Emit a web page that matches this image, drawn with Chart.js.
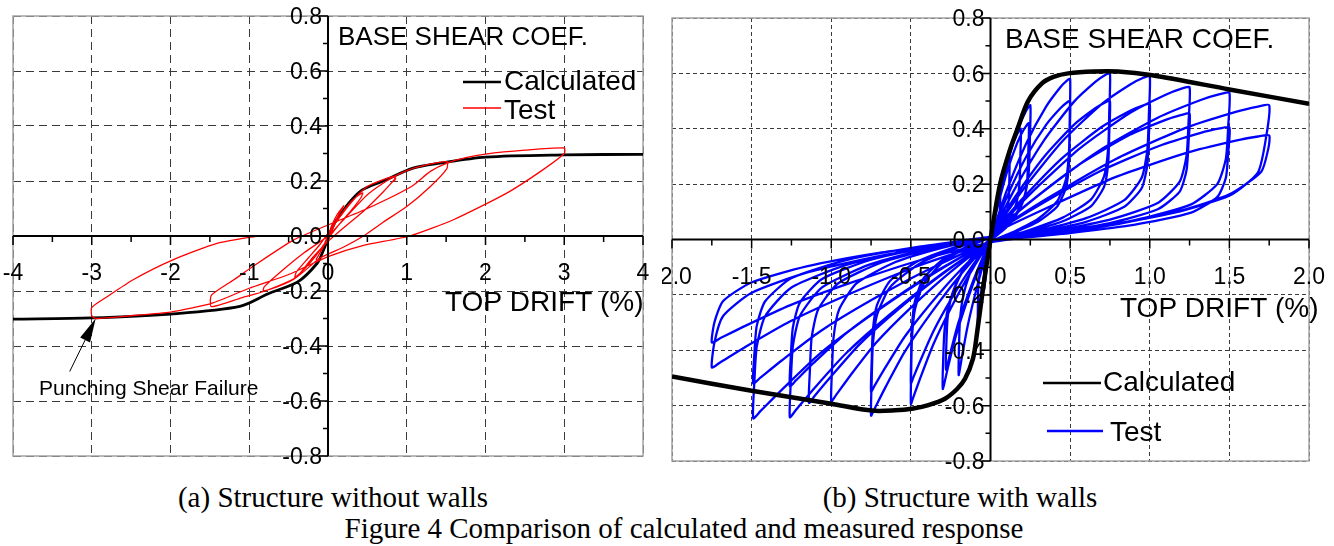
<!DOCTYPE html>
<html>
<head>
<meta charset="utf-8">
<script src="https://cdn.jsdelivr.net/npm/chart.js@4.4.1/dist/chart.umd.min.js"></script>
<style>
body { margin: 0; background: #fff; width: 1334px; height: 546px; overflow: hidden; position: relative; }
canvas { position: absolute; top: 0; }
#chartA { left: 0; }
#chartB { left: 662px; }
.cap { position: absolute; font-family: 'Liberation Serif', 'Times New Roman', serif; font-size: 29px; line-height: 29px; white-space: nowrap; color: #000; transform: translateX(-50%); }
</style>
</head>
<body>
<canvas id="chartA" width="660" height="470"></canvas>
<canvas id="chartB" width="672" height="470"></canvas>
<div class="cap" style="left:333px;top:483px">(a) Structure without walls</div>
<div class="cap" style="left:960px;top:483px">(b) Structure with walls</div>
<div class="cap" style="left:684px;top:514px">Figure 4 Comparison of calculated and measured response</div>
<script>
// tick labels
const xTicksA = ['-4', '-3', '-2', '-1', '0', '1', '2', '3', '4'];
const xTicksB = ['-2.0', '-1.5', '-1.0', '-0.5', '0.0', '0.5', '1.0', '1.5', '2.0'];
const yTicks = ['0.8', '0.6', '0.4', '0.2', '0.0', '-0.2', '-0.4', '-0.6', '-0.8'];

// (a) structure without walls: [drift %, base shear coef.]
const calcA = [[-4, -0.302], [-3, -0.298], [-2, -0.284], [-1.12, -0.256], [-0.76, -0.21], [-0.38, -0.166],
  [-0.14, -0.1], [-0.07, -0.06], [0, -0.01], [0.07, 0.04], [0.15, 0.075], [0.28, 0.125], [0.43, 0.167],
  [0.7, 0.2], [1.08, 0.247], [1.42, 0.265], [2.0, 0.287], [3, 0.295], [4, 0.297]];

const testA = [[0, 0], [0.05, 0.04], [0.12, 0.08], [0.2, 0.11], [0.15, 0.085], [0.05, 0.03], [0, 0.005],
  [-0.06, -0.04], [-0.15, -0.085], [-0.1, -0.06], [0, -0.01],
  [0.1, 0.05], [0.25, 0.11], [0.35, 0.14], [0.44, 0.157], [0.42, 0.14], [0.3, 0.095], [0.15, 0.045], [0, -0.01],
  [-0.15, -0.07], [-0.3, -0.12], [-0.42, -0.15], [-0.4, -0.13], [-0.25, -0.08], [-0.1, -0.03], [0, 0.01],
  [0.15, 0.07], [0.35, 0.14], [0.5, 0.18], [0.7, 0.205], [0.85, 0.218], [0.84, 0.2], [0.86, 0.21], [0.7, 0.16],
  [0.45, 0.09], [0.2, 0.03], [0, -0.02], [-0.2, -0.08], [-0.4, -0.15], [-0.6, -0.18], [-0.82, -0.2],
  [-0.81, -0.185], [-0.6, -0.13], [-0.3, -0.06], [0, 0.0],
  [0.2, 0.06], [0.5, 0.15], [0.8, 0.21], [1.0, 0.238], [1.2, 0.255], [1.51, 0.27], [1.51, 0.245], [1.3, 0.18],
  [1.0, 0.107], [0.7, 0.05], [0.45, 0.0], [0.2, -0.04], [-0.1, -0.08], [-0.4, -0.15], [-0.8, -0.2],
  [-1.1, -0.225], [-1.48, -0.257], [-1.48, -0.215], [-1.2, -0.16], [-0.95, -0.11], [-0.44, -0.015], [0, 0.04],
  [0.5, 0.1], [1.06, 0.18], [1.3, 0.235], [1.51, 0.265],
  [1.75, 0.285], [2.0, 0.298], [2.5, 0.312], [3.0, 0.32], [3.0, 0.3], [2.7, 0.235], [2.27, 0.156], [1.6, 0.06],
  [1.04, 0.0], [0.44, -0.035], [0, -0.075], [-0.5, -0.14], [-1.0, -0.19], [-1.48, -0.245], [-2.0, -0.277],
  [-2.5, -0.29], [-2.95, -0.3], [-3.0, -0.29], [-3.0, -0.26], [-2.8, -0.22], [-2.48, -0.16], [-1.97, -0.087],
  [-1.41, -0.027], [-0.9, 0.0]];

// (b) structure with walls
const calcB = [[-2, -0.495], [-1.5, -0.546], [-1.0, -0.593], [-0.744, -0.618], [-0.6, -0.617], [-0.493, -0.611],
  [-0.39, -0.598], [-0.286, -0.575], [-0.21, -0.54], [-0.16, -0.503], [-0.11, -0.43], [-0.085, -0.34],
  [-0.05, -0.19], [0, 0], [0.06, 0.2], [0.12, 0.32], [0.173, 0.405], [0.236, 0.5], [0.323, 0.564],
  [0.4, 0.588], [0.487, 0.6], [0.65, 0.607], [0.8, 0.607], [1.015, 0.593], [1.5, 0.542], [2.0, 0.49]];

// test cycles, grouped by peak drift
const testB005 = [[0, 0], [0.03, 0.1], [0.06, 0.2], [0.058, 0.1], [0.03, 0.03], [0, 0], [-0.02, -0.08],
  [-0.04, -0.18], [-0.038, -0.1], [-0.015, -0.02], [0, 0],
  [0, 0.01], [0.024, 0.09], [0.054, 0.18], [0.084, 0.249], [0.106, 0.285], [0.115, 0.297], [0.12, 0.3], [0.119, 0.234],
  [0.115, 0.15], [0.103, 0.099], [0.079, 0.06], [0.048, 0.03], [0.018, 0.009], [0, -0.005],
  [-0.02, -0.06], [-0.04, -0.126], [-0.058, -0.192], [-0.07, -0.252], [-0.08, -0.3],
  [-0.079, -0.24], [-0.077, -0.18], [-0.069, -0.126], [-0.053, -0.078], [-0.032, -0.039], [-0.012, -0.012], [0, 0.005]];
const testB020 = [[0, 0.01], [0.038, 0.12], [0.086, 0.24], [0.133, 0.332], [0.167, 0.38], [0.19, 0.4],
  [0.188, 0.312], [0.182, 0.2], [0.163, 0.132], [0.125, 0.08], [0.076, 0.04], [0.029, 0.012], [0, -0.005],
  [-0.05, -0.098], [-0.1, -0.206], [-0.144, -0.314], [-0.176, -0.412], [-0.2, -0.49],
  [-0.198, -0.392], [-0.192, -0.294], [-0.172, -0.206], [-0.132, -0.127], [-0.08, -0.064], [-0.03, -0.02], [0, 0.005]];
const testB025 = [[0, 0.01], [0.05, 0.146], [0.113, 0.291], [0.175, 0.403], [0.22, 0.461], [0.25, 0.485],
  [0.248, 0.378], [0.24, 0.243], [0.215, 0.16], [0.165, 0.097], [0.1, 0.049], [0.038, 0.015], [0, -0.005],
  [-0.075, -0.108], [-0.15, -0.227], [-0.216, -0.346], [-0.264, -0.454], [-0.3, -0.54],
  [-0.297, -0.432], [-0.288, -0.324], [-0.258, -0.227], [-0.198, -0.14], [-0.12, -0.07], [-0.045, -0.022], [0, 0.005],
  [0, 0.01], [0.048, 0.126], [0.108, 0.252], [0.168, 0.349], [0.211, 0.399], [0.24, 0.42],
  [0.238, 0.328], [0.23, 0.21], [0.206, 0.139], [0.158, 0.084], [0.096, 0.042], [0.036, 0.013], [0, -0.005],
  [-0.07, -0.094], [-0.14, -0.197], [-0.202, -0.301], [-0.246, -0.395], [-0.28, -0.47],
  [-0.277, -0.376], [-0.269, -0.282], [-0.241, -0.197], [-0.185, -0.122], [-0.112, -0.061], [-0.042, -0.019], [0, 0.005]];
const testB050 = [[0.01, 0.02], [0.1, 0.174], [0.225, 0.348], [0.35, 0.481], [0.44, 0.551], [0.48, 0.574], [0.5, 0.58],
  [0.498, 0.452], [0.493, 0.319], [0.475, 0.22], [0.42, 0.139], [0.3, 0.075], [0.15, 0.029], [0, -0.01],
  [-0.125, -0.119], [-0.25, -0.249], [-0.36, -0.38], [-0.44, -0.499], [-0.485, -0.57], [-0.5, -0.594],
  [-0.498, -0.475], [-0.493, -0.356], [-0.475, -0.255], [-0.42, -0.16], [-0.3, -0.083], [-0.15, -0.03], [0, 0.01],
  [0.01, 0.02], [0.1, 0.15], [0.225, 0.3], [0.35, 0.415], [0.44, 0.475], [0.48, 0.495], [0.5, 0.5],
  [0.498, 0.39], [0.493, 0.275], [0.475, 0.19], [0.42, 0.12], [0.3, 0.065], [0.15, 0.025], [0, -0.01],
  [-0.125, -0.104], [-0.25, -0.218], [-0.36, -0.333], [-0.44, -0.437], [-0.485, -0.499], [-0.5, -0.52],
  [-0.498, -0.416], [-0.493, -0.312], [-0.475, -0.224], [-0.42, -0.14], [-0.3, -0.073], [-0.15, -0.026], [0, 0.01]];
const testB075 = [[0.01, 0.02], [0.15, 0.18], [0.338, 0.36], [0.525, 0.498], [0.66, 0.57], [0.72, 0.594], [0.75, 0.6],
  [0.746, 0.468], [0.739, 0.33], [0.713, 0.228], [0.63, 0.144], [0.45, 0.078], [0.225, 0.03], [0, -0.01],
  [-0.188, -0.127], [-0.375, -0.267], [-0.54, -0.407], [-0.66, -0.534], [-0.728, -0.611], [-0.75, -0.636],
  [-0.746, -0.509], [-0.739, -0.382], [-0.713, -0.273], [-0.63, -0.172], [-0.45, -0.089], [-0.225, -0.032], [0, 0.01],
  [0.01, 0.02], [0.15, 0.15], [0.338, 0.3], [0.525, 0.415], [0.66, 0.475], [0.72, 0.495], [0.75, 0.5],
  [0.746, 0.39], [0.739, 0.275], [0.713, 0.19], [0.63, 0.12], [0.45, 0.065], [0.225, 0.025], [0, -0.01],
  [-0.188, -0.11], [-0.375, -0.231], [-0.54, -0.352], [-0.66, -0.462], [-0.728, -0.528], [-0.75, -0.55],
  [-0.746, -0.44], [-0.739, -0.33], [-0.713, -0.237], [-0.63, -0.149], [-0.45, -0.077], [-0.225, -0.028], [0, 0.01]];
const testB100 = [[0.01, 0.02], [0.2, 0.177], [0.45, 0.354], [0.7, 0.49], [0.88, 0.561], [0.96, 0.584], [1.0, 0.59],
  [0.995, 0.46], [0.985, 0.325], [0.95, 0.224], [0.84, 0.142], [0.6, 0.077], [0.3, 0.03], [0, -0.01],
  [-0.25, -0.117], [-0.5, -0.246], [-0.72, -0.374], [-0.88, -0.491], [-0.97, -0.562], [-1.0, -0.585],
  [-0.995, -0.468], [-0.985, -0.351], [-0.95, -0.252], [-0.84, -0.158], [-0.6, -0.082], [-0.3, -0.029], [0, 0.01],
  [0.01, 0.02], [0.2, 0.147], [0.45, 0.294], [0.7, 0.407], [0.88, 0.466], [0.96, 0.485], [1.0, 0.49],
  [0.995, 0.382], [0.985, 0.27], [0.95, 0.186], [0.84, 0.118], [0.6, 0.064], [0.3, 0.025], [0, -0.01],
  [-0.285, -0.118], [-0.57, -0.248], [-0.821, -0.378], [-1.003, -0.496], [-1.106, -0.566], [-1.14, -0.59],
  [-1.134, -0.472], [-1.123, -0.354], [-1.083, -0.254], [-0.958, -0.159], [-0.684, -0.083], [-0.342, -0.03], [0, 0.01]];
const testB125 = [[0.01, 0.02], [0.25, 0.165], [0.563, 0.33], [0.875, 0.457], [1.1, 0.523], [1.2, 0.545], [1.25, 0.55],
  [1.244, 0.429], [1.231, 0.303], [1.188, 0.209], [1.05, 0.132], [0.75, 0.072], [0.375, 0.028], [0, -0.01],
  [-0.315, -0.128], [-0.63, -0.27], [-0.907, -0.411], [-1.109, -0.539], [-1.222, -0.616], [-1.26, -0.642],
  [-1.254, -0.514], [-1.241, -0.385], [-1.197, -0.276], [-1.058, -0.173], [-0.756, -0.09], [-0.378, -0.032], [0, 0.01],
  [0.01, 0.02], [0.25, 0.137], [0.563, 0.273], [0.875, 0.378], [1.1, 0.432], [1.2, 0.45], [1.25, 0.455],
  [1.244, 0.355], [1.231, 0.25], [1.188, 0.173], [1.05, 0.109], [0.75, 0.059], [0.375, 0.023], [0, -0.01],
  [-0.315, -0.106], [-0.63, -0.223], [-0.907, -0.339], [-1.109, -0.445], [-1.222, -0.509], [-1.26, -0.53],
  [-1.254, -0.424], [-1.241, -0.318], [-1.197, -0.228], [-1.058, -0.143], [-0.756, -0.074], [-0.378, -0.027], [0, 0.01]];
const testB150 = [[0.01, 0.02], [0.3, 0.159], [0.675, 0.318], [1.05, 0.44], [1.32, 0.504], [1.44, 0.525], [1.5, 0.53],
  [1.493, 0.413], [1.478, 0.292], [1.425, 0.201], [1.26, 0.127], [0.9, 0.069], [0.45, 0.027], [0, -0.01],
  [-0.373, -0.129], [-0.745, -0.271], [-1.073, -0.413], [-1.311, -0.543], [-1.445, -0.62], [-1.49, -0.646],
  [-1.483, -0.517], [-1.468, -0.388], [-1.416, -0.278], [-1.252, -0.174], [-0.894, -0.09], [-0.447, -0.032], [0, 0.01],
  [0.01, 0.02], [0.3, 0.122], [0.675, 0.243], [1.05, 0.336], [1.32, 0.385], [1.44, 0.401], [1.5, 0.405],
  [1.493, 0.316], [1.478, 0.223], [1.425, 0.154], [1.26, 0.097], [0.9, 0.053], [0.45, 0.02], [0, -0.01],
  [-0.373, -0.104], [-0.745, -0.218], [-1.073, -0.333], [-1.311, -0.437], [-1.445, -0.499], [-1.49, -0.52],
  [-1.483, -0.416], [-1.468, -0.312], [-1.416, -0.224], [-1.252, -0.14], [-0.894, -0.073], [-0.447, -0.026], [0, 0.01]];
const testB175 = [[0.01, 0.02], [0.35, 0.146], [0.788, 0.291], [1.225, 0.403], [1.54, 0.461], [1.68, 0.48], [1.75, 0.485],
  [1.733, 0.378], [1.68, 0.243], [1.505, 0.16], [1.155, 0.097], [0.7, 0.049], [0.263, 0.015], [0, -0.01],
  [-0.438, -0.092], [-0.875, -0.194], [-1.26, -0.296], [-1.54, -0.388], [-1.698, -0.444], [-1.75, -0.462],
  [-1.733, -0.37], [-1.68, -0.277], [-1.505, -0.194], [-1.155, -0.12], [-0.7, -0.06], [-0.263, -0.018], [0, 0.01],
  [0.01, 0.02], [0.35, 0.113], [0.788, 0.226], [1.225, 0.312], [1.54, 0.357], [1.68, 0.372], [1.75, 0.376],
  [1.745, 0.33], [1.7, 0.245], [1.5, 0.163], [1.2, 0.105], [0.8, 0.056], [0.35, 0.018], [0, -0.01],
  [-0.438, -0.074], [-0.875, -0.156], [-1.26, -0.238], [-1.54, -0.312], [-1.698, -0.357], [-1.75, -0.372],
  [-1.733, -0.298], [-1.68, -0.223], [-1.505, -0.156], [-1.155, -0.097], [-0.7, -0.048], [-0.263, -0.015], [0, 0.01]];

const testB = [].concat(testB005, testB020, testB025, testB050, testB075, testB100, testB125, testB150, testB175);

const SANS = "'Liberation Sans', Arial, sans-serif";
const toXY = arr => arr.map(([x, y]) => ({ x, y }));

// frame, axes through origin, tick marks, tick labels and in-plot texts
function figurePlugin(p) {
  return {
    id: 'figure',
    beforeDatasetsDraw(chart) {
      const { ctx, chartArea: a } = chart;
      ctx.save();
      ctx.strokeStyle = '#a3a3a3';
      ctx.lineWidth = 1.5;
      ctx.strokeRect(a.left, a.top, a.right - a.left, a.bottom - a.top);
      ctx.restore();
    },
    afterDatasetsDraw(chart) {
      const { ctx, chartArea: a } = chart;
      const sx = chart.scales.x, sy = chart.scales.y;
      const x0 = sx.getPixelForValue(0), y0 = sy.getPixelForValue(0);
      ctx.save();
      ctx.strokeStyle = '#000';
      ctx.lineWidth = 2;
      ctx.beginPath();
      ctx.moveTo(a.left, y0); ctx.lineTo(a.right, y0);
      ctx.moveTo(x0, a.top); ctx.lineTo(x0, a.bottom);
      ctx.stroke();

      ctx.lineWidth = 1.5;
      ctx.beginPath();
      const nx = Math.round((sx.max - sx.min) / p.xMinor);
      for (let i = 0; i <= nx; i++) {
        const px = sx.getPixelForValue(sx.min + i * p.xMinor);
        ctx.moveTo(px, y0); ctx.lineTo(px, y0 + (i % p.xEvery === 0 ? 9 : 6));
      }
      const ny = Math.round((sy.max - sy.min) / 0.1);
      for (let i = 0; i <= ny; i++) {
        const py = sy.getPixelForValue(sy.min + i * 0.1);
        ctx.moveTo(x0, py); ctx.lineTo(x0 - (i % 2 === 0 ? 9 : 5), py);
      }
      ctx.stroke();

      ctx.fillStyle = '#000';
      ctx.font = p.tickSize + 'px ' + SANS;
      ctx.textBaseline = 'alphabetic';
      ctx.textAlign = 'center';
      p.xLabels.forEach(t => ctx.fillText(t, sx.getPixelForValue(parseFloat(t)), y0 + 44));
      ctx.textAlign = 'right';
      yTicks.forEach(t => ctx.fillText(t, x0 - 6, sy.getPixelForValue(parseFloat(t)) + p.tickSize * 0.36));

      ctx.textAlign = 'left';
      ctx.textBaseline = 'middle';
      p.texts.forEach(t => {
        ctx.font = t.size + 'px ' + SANS;
        ctx.fillText(t.text, t.x, t.y);
      });
      p.keys.forEach(k => {
        ctx.strokeStyle = k.color;
        ctx.lineWidth = k.width;
        ctx.beginPath();
        ctx.moveTo(k.x1, k.y); ctx.lineTo(k.x2, k.y);
        ctx.stroke();
      });
      if (p.arrow) {
        const tx = sx.getPixelForValue(p.arrow.at[0]), ty = sy.getPixelForValue(p.arrow.at[1]);
        const fx = tx + p.arrow.dx, fy = ty + p.arrow.dy;
        const len = Math.hypot(fx - tx, fy - ty);
        const ux = (tx - fx) / len, uy = (ty - fy) / len;
        const bx = tx - 24 * ux, by = ty - 24 * uy;
        ctx.strokeStyle = '#000';
        ctx.lineWidth = 1;
        ctx.beginPath();
        ctx.moveTo(fx, fy); ctx.lineTo(bx, by);
        ctx.stroke();
        ctx.beginPath();
        ctx.moveTo(tx, ty);
        ctx.lineTo(bx - 5.5 * uy, by + 5.5 * ux);
        ctx.lineTo(bx + 5.5 * uy, by - 5.5 * ux);
        ctx.closePath();
        ctx.fill();
      }
      ctx.restore();
    }
  };
}

function scaleOpts(min, max, step, dash) {
  return {
    type: 'linear', min: min, max: max,
    ticks: { display: false, stepSize: step },
    grid: { color: '#3a3a3a', lineWidth: 1, drawTicks: false },
    border: { display: false, dash: dash }
  };
}

function baseOptions(pad, xr, dash) {
  return {
    responsive: false,
    animation: false,
    devicePixelRatio: 1,
    layout: { padding: pad },
    plugins: { legend: { display: false }, tooltip: { enabled: false } },
    elements: { point: { radius: 0 } },
    scales: {
      x: scaleOpts(-xr[0], xr[0], xr[1], dash),
      y: scaleOpts(-0.8, 0.8, 0.2, dash)
    }
  };
}

new Chart(document.getElementById('chartA'), {
  type: 'scatter',
  data: {
    datasets: [
      { label: 'Test', data: toXY(testA), showLine: true, borderColor: '#ff0000', borderWidth: 1.3, tension: 0.2 },
      { label: 'Calculated', data: toXY(calcA), showLine: true, borderColor: '#000', borderWidth: 2.8, tension: 0.3 }
    ]
  },
  options: baseOptions({ left: 13, top: 16, right: 17, bottom: 14 }, [4, 1], [8, 5]),
  plugins: [figurePlugin({
    xLabels: xTicksA, xMinor: 0.5, xEvery: 2, tickSize: 23,
    texts: [
      { text: 'BASE SHEAR COEF.', x: 338, y: 38, size: 26 },
      { text: 'Calculated', x: 504, y: 82, size: 28 },
      { text: 'Test', x: 504, y: 111, size: 28 },
      { text: 'TOP DRIFT (%)', x: 445, y: 303, size: 28 },
      { text: 'Punching Shear Failure', x: 39, y: 389, size: 21 }
    ],
    keys: [
      { x1: 463, x2: 501, y: 82, color: '#000', width: 2.5 },
      { x1: 463, x2: 501, y: 108, color: '#ff0000', width: 1.5 }
    ],
    arrow: { at: [-2.95, -0.3], dx: -26, dy: 53 }
  })]
});

new Chart(document.getElementById('chartB'), {
  type: 'scatter',
  data: {
    datasets: [
      { label: 'Calculated', data: toXY(calcB), showLine: true, borderColor: '#000', borderWidth: 4.5, tension: 0.3 },
      { label: 'Test', data: toXY(testB), showLine: true, borderColor: '#0000ff', borderWidth: 2.3, tension: 0.2 }
    ]
  },
  options: baseOptions({ left: 10, top: 18, right: 25, bottom: 9 }, [2, 0.5], [4, 3]),
  plugins: [figurePlugin({
    xLabels: xTicksB, xMinor: 0.25, xEvery: 2, tickSize: 23,
    texts: [
      { text: 'BASE SHEAR COEF.', x: 343, y: 40, size: 28 },
      { text: 'TOP DRIFT (%)', x: 458, y: 309, size: 28 },
      { text: 'Calculated', x: 441, y: 383, size: 28 },
      { text: 'Test', x: 448, y: 433, size: 28 }
    ],
    keys: [
      { x1: 381, x2: 439, y: 383, color: '#000', width: 2.5 },
      { x1: 385, x2: 441, y: 431, color: '#0000ff', width: 2.5 }
    ]
  })]
});
</script>
</body>
</html>
